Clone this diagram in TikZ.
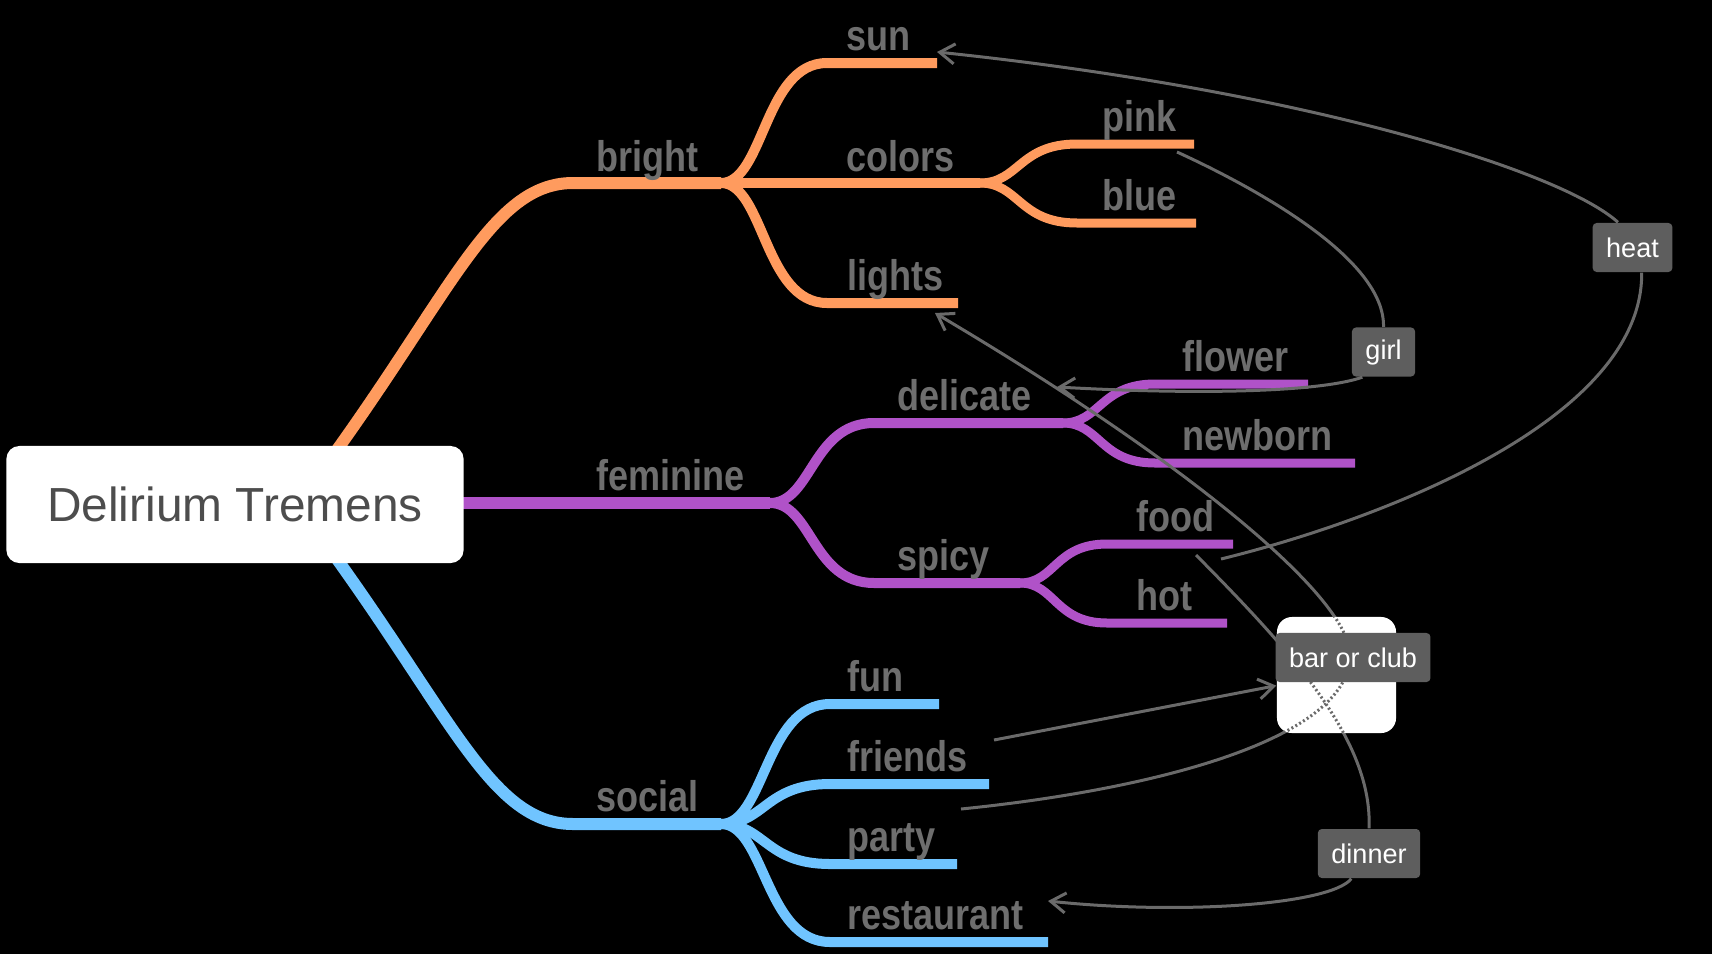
\documentclass[tikz,border=0pt]{standalone}
\usepackage{fontspec}
\setmainfont{Liberation Sans}
\newfontfamily\branchfont[FakeStretch=0.84]{Liberation Sans}
\usetikzlibrary{arrows.meta}
\definecolor{orangeB}{HTML}{FF9B5E}
\definecolor{purpleB}{HTML}{B052C8}
\definecolor{blueB}{HTML}{70C4FF}
\definecolor{lblGray}{HTML}{6E6E6E}
\definecolor{rootText}{HTML}{4D4D4D}
\definecolor{tagGray}{HTML}{5E5E5E}
\definecolor{linkGray}{HTML}{6A6A6A}
\begin{document}
\begin{tikzpicture}[x=0.01cm, y=-0.01cm,
  root/.style={rectangle, rounded corners=0.13cm, fill=white, minimum width=4.57cm, minimum height=1.17cm, text=rootText, font=\fontsize{13.6pt}{16pt}\selectfont},
  hubbox/.style={rectangle, rounded corners=0.15cm, fill=white, minimum width=1.19cm, minimum height=1.16cm},
  lbl/.style={anchor=base west, inner sep=0pt, text=lblGray, font=\branchfont\bfseries\fontsize{12.2pt}{14pt}\selectfont},
  tag/.style={rectangle, rounded corners=0.04cm, fill=tagGray, text=white, inner xsep=0.135cm, inner ysep=0pt, minimum height=0.49cm, font=\fontsize{7.7pt}{9pt}\selectfont},
  br1/.style={line width=0.12cm},
  br2/.style={line width=0.10cm},
  br3/.style={line width=0.09cm},
  link/.style={draw=linkGray, line width=0.03cm},
  arr/.style={-{Straight Barb[length=0.15cm,width=0.2cm]}},
  dotlink/.style={draw=linkGray, line width=0.03cm, dash pattern=on 0.02cm off 0.025cm}]
\useasboundingbox (0,0) rectangle (1712,954);
\fill[black] (0,0) rectangle (1712,954);

% forks and free ends
\coordinate (rootN) at (318,476);
\coordinate (rootE) at (440,503);
\coordinate (rootS) at (318,533);
\coordinate (brightF) at (721,183);
\coordinate (colorsF) at (980,183);
\coordinate (feminineF) at (770,503);
\coordinate (delicateF) at (1063,423);
\coordinate (spicyF) at (1020,583);
\coordinate (socialF) at (721,824);

% main branches
\draw[br1, orangeB] (rootN) .. controls (451,296) and (490,183) .. (573,183) -- (brightF);
\draw[br1, purpleB] (rootE) -- (feminineF);
\draw[br1, blueB] (rootS) .. controls (451,713) and (490,824) .. (573,824) -- (socialF);

% bright
\draw[br2, orangeB] (brightF) .. controls +(43,0) and +(-63,0) .. (827,63) -- (937,63);
\draw[br2, orangeB] (brightF) -- (colorsF);
\draw[br2, orangeB] (brightF) .. controls +(43,0) and +(-63,0) .. (827,303) -- (958,303);
\draw[br3, orangeB] (colorsF) .. controls +(39,0) and +(-58,0) .. (1077,144) -- (1194,144);
\draw[br3, orangeB] (colorsF) .. controls +(39,0) and +(-58,0) .. (1077,223) -- (1196,223);

% feminine
\draw[br2, purpleB] (feminineF) .. controls +(42,0) and +(-62,0) .. (874,423) -- (delicateF);
\draw[br2, purpleB] (feminineF) .. controls +(42,0) and +(-62,0) .. (874,583) -- (spicyF);
\draw[br3, purpleB] (delicateF) .. controls +(37,0) and +(-55,0) .. (1155,384) -- (1308,384);
\draw[br3, purpleB] (delicateF) .. controls +(37,0) and +(-55,0) .. (1155,463) -- (1355,463);
\draw[br3, purpleB] (spicyF) .. controls +(35,0) and +(-52,0) .. (1107,544) -- (1233,544);
\draw[br3, purpleB] (spicyF) .. controls +(35,0) and +(-52,0) .. (1107,623) -- (1227,623);

% social
\draw[br2, blueB] (socialF) .. controls +(44,0) and +(-65,0) .. (830,704) -- (939,704);
\draw[br2, blueB] (socialF) .. controls +(44,0) and +(-65,0) .. (830,784) -- (989,784);
\draw[br2, blueB] (socialF) .. controls +(44,0) and +(-65,0) .. (830,864) -- (957,864);
\draw[br2, blueB] (socialF) .. controls +(44,0) and +(-65,0) .. (830,942) -- (1048,942);

\node[root] (root) at (235,504.5) {Delirium Tremens};

% labels
\node[lbl] (bright) at (596,171) {bright};
\node[lbl] (sun) at (846,50) {sun};
\node[lbl] (colors) at (846,171) {colors};
\node[lbl] (lights) at (847,290) {lights};
\node[lbl] (pink) at (1102,131) {pink};
\node[lbl] (blue) at (1102,210) {blue};
\node[lbl] (feminine) at (596,490) {feminine};
\node[lbl] (delicate) at (897,410) {delicate};
\node[lbl] (spicy) at (897,570) {spicy};
\node[lbl] (flower) at (1182,371) {flower};
\node[lbl] (newborn) at (1182,450) {newborn};
\node[lbl] (food) at (1136,531) {food};
\node[lbl] (hot) at (1136,610) {hot};
\node[lbl] (social) at (596,811) {social};
\node[lbl] (fun) at (847,691) {fun};
\node[lbl] (friends) at (847,771) {friends};
\node[lbl] (party) at (847,851) {party};
\node[lbl] (restaurant) at (847,929) {restaurant};

% link tags
\node[tag] (heat) at (1632.5,247.5) {heat};
\node[tag] (girl) at (1383.5,352) {girl};
\node[tag] (dinner) at (1369,853.5) {dinner};

% link ends
\coordinate (foodA) at (1196,555);
\coordinate (foodB) at (1221,559);
\coordinate (sunT) at (937,52);
\coordinate (pinkA) at (1177,152);
\coordinate (delicateT) at (1057,387);
\coordinate (partyA) at (961,809);
\coordinate (lightsT) at (935,313);
\coordinate (friendsA) at (994,740);
\coordinate (restaurantT) at (1048,901);
\coordinate (turn) at (1350,655);

\draw[link] (foodB) .. controls (1380,520) and (1643,420) .. (heat.290);
\draw[link, arr] (heat.120) .. controls (1560,170) and (1300,90) .. (sunT);
\draw[link] (pinkA) .. controls (1260,190) and (1385,260) .. (girl.north);
\draw[link, arr] (girl.230) .. controls (1320,392) and (1200,395) .. (delicateT);
\draw[link] (foodA) .. controls (1290,650) and (1373,740) .. (dinner.north);
\draw[link, arr] (dinner.235) .. controls (1330,905) and (1180,915) .. (restaurantT);
\draw[link, arr] (partyA) .. controls (1150,790) and (1350,740) .. (turn) .. controls (1350,600) and (1200,470) .. (lightsT);

\node[hubbox] (hub) at (1336.5,675) {};
\begin{scope}
\clip[rounded corners=0.15cm] (hub.south west) rectangle (hub.north east);
\draw[dotlink] (foodA) .. controls (1290,650) and (1373,740) .. (dinner.north);
\draw[dotlink] (partyA) .. controls (1150,790) and (1350,740) .. (turn) .. controls (1350,600) and (1200,470) .. (lightsT);
\end{scope}

\draw[link, arr] (friendsA) -- (hub.190);
\node[tag] (barclub) at (1353,657.5) {bar or club};
\end{tikzpicture}
\end{document}
